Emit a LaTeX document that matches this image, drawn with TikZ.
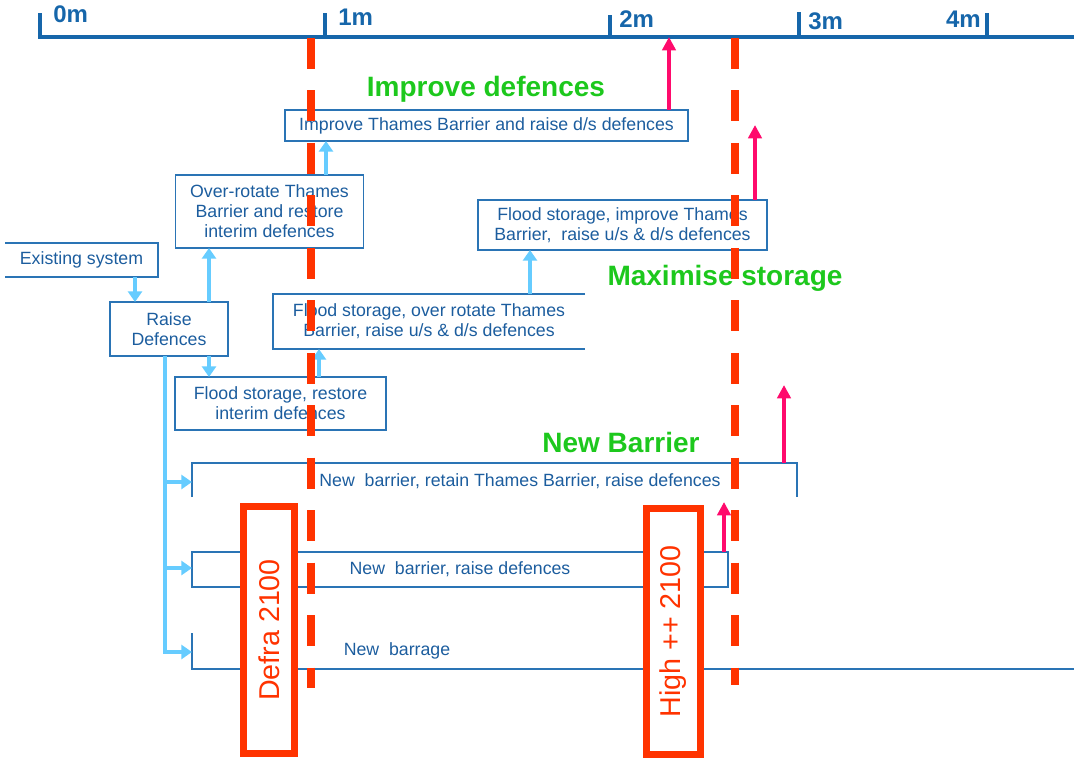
\documentclass[tikz,border=0pt]{standalone}
\usepackage{fontspec}
\setmainfont{Liberation Sans}
\usetikzlibrary{arrows.meta}

\definecolor{boxline}{HTML}{2A74B5}
\definecolor{boxtext}{HTML}{1C5D9E}
\definecolor{axisblue}{HTML}{1666AA}
\definecolor{flowblue}{HTML}{66CCFF}
\definecolor{markred}{HTML}{FF3300}
\definecolor{riserpink}{HTML}{FF0A6C}
\definecolor{themegreen}{HTML}{1DC81D}

\newcommand\optfont{\fontsize{13.3pt}{15pt}\selectfont}

\begin{document}
\begin{tikzpicture}[x=0.75pt,y=-0.75pt,
  optbox/.style 2 args={draw=boxline,line width=1.4pt,
    minimum width=#1*0.75pt,minimum height=#2*0.75pt,
    inner sep=0pt,outer sep=0pt,align=center,text=boxtext,font=\optfont},
  openbox/.style 2 args={minimum width=#1*0.75pt,minimum height=#2*0.75pt,
    inner sep=0pt,outer sep=0pt,align=center,text=boxtext,font=\optfont},
  outline/.style={draw=boxline,line width=1.4pt,line join=miter},
  opttext/.style={inner sep=0pt,text=boxtext,font=\optfont},
  flow/.style={draw=flowblue,line width=3pt,
    -{Triangle[width=10.5pt,length=8pt]}},
  rise/.style={draw=riserpink,line width=2.8pt,
    -{Triangle[width=10pt,length=10pt]}},
  axisline/.style={draw=axisblue,line width=3.5pt,line join=miter},
  ticklabel/.style={text=axisblue,inner sep=0pt,
    font=\fontsize{18pt}{20pt}\selectfont\bfseries},
  theme/.style={text=themegreen,inner sep=0pt,
    font=\fontsize{21pt}{24pt}\selectfont\bfseries},
  limit/.style={draw=markred,line width=6pt,
    dash pattern=on 23.25pt off 16.1pt},
  horizon/.style={draw=markred,fill=white,line width=5.25pt,
    inner sep=0pt,outer sep=0pt,text=markred,
    font=\fontsize{21.5pt}{26pt}\selectfont}]

\useasboundingbox (0,0) rectangle (1074,758);

% ---- time axis ----
\coordinate (ax0) at (40,37);
\coordinate (axEnd) at (1074,37);
\draw[axisline] (40,13) -- (ax0) -- (axEnd);
\draw[axisline] (325,37) -- (325,13);
\draw[axisline] (610,37) -- (610,15);
\draw[axisline] (799,37) -- (799,12);
\draw[axisline] (987,37) -- (987,13);
\node[ticklabel,anchor=base west] (lbl0) at (53,22) {0m};
\node[ticklabel,anchor=base west] (lbl1) at (338,25) {1m};
\node[ticklabel,anchor=base west] (lbl2) at (619,27) {2m};
\node[ticklabel,anchor=base west] (lbl3) at (808,29) {3m};
\node[ticklabel,anchor=base east] (lbl4) at (981,27) {4m};

% ---- option boxes ----
\node[optbox={403}{31}] (improve) at (486.5,125.5)
  {Improve Thames Barrier and raise d/s defences};
\node[optbox={188}{73}] (over) at (269.5,211.5)
  {Over-rotate Thames\\Barrier and restore\\interim defences};
\node[openbox={153}{34}] (exist) at (81.5,260) {Existing system};
\draw[outline] (exist.north west) -- (exist.north east)
  -- (exist.south east) -- (exist.south west);
\node[optbox={118}{54}] (raise) at (169,329) {Raise\\Defences};
\node[openbox={312}{55}] (fover) at (429,321.5)
  {Flood storage, over rotate Thames\\Barrier, raise u/s \& d/s defences};
\draw[outline] (fover.north east) -- (fover.north west)
  -- (fover.south west) -- (fover.south east);
\node[optbox={289}{50}] (fimp) at (622.5,225)
  {Flood storage, improve Thames\\Barrier,\ \ raise u/s \& d/s defences};
\node[optbox={211}{53}] (frest) at (280.5,403.5)
  {Flood storage, restore\\interim defences};
\node[openbox={605}{34}] (nret) at (494.5,480) {};
\draw[outline] (nret.south west) -- (nret.north west)
  -- (nret.north east) -- (nret.south east);
\node[opttext] (nrettext) at (520,481)
  {New\ \ barrier, retain Thames Barrier, raise defences};
\node[optbox={536}{35}] (nraise) at (460,569.5)
  {New\ \ barrier, raise defences};
\node[openbox={882}{36}] (nbarrage) at (633,651) {};
\draw[outline] (nbarrage.north west) -- (nbarrage.south west)
  -- (nbarrage.south east);
\node[opttext] (nbarragetext) at (397,651) {New\ \ barrage};

% ---- adaptation pathways ----
\draw[flow] (exist.south -| 135,0) -- (raise.north -| 135,0);
\draw[flow] (raise.north -| 209,0) -- (over.south -| 209,0);
\draw[flow] (raise.south -| 209,0) -- (frest.north -| 209,0);
\draw[flow] (frest.north -| 319,0) -- (fover.south -| 319,0);
\draw[flow] (fover.north -| 530,0) -- (fimp.south -| 530,0);
\draw[flow] (over.north -| 326,0) -- (improve.south -| 326,0);
\draw[flow] (raise.south -| 165,0) |- (nbarrage.west |- 0,652);
\draw[flow] (raise.south -| 165,0) |- (nraise.west |- 0,568);
\draw[flow] (raise.south -| 165,0) |- (nret.west |- 0,482);

% ---- end-of-life risers ----
\coordinate (riseB) at (755,125);
\coordinate (riseC) at (784,385);
\coordinate (riseD) at (724,502);
\draw[rise] (improve.north -| 669,0) -- (ax0 -| 669,0);
\draw[rise] (fimp.north -| 755,0) -- (riseB);
\draw[rise] (nret.north -| 784,0) -- (riseC);
\draw[rise] (nraise.north -| 724,0) -- (riseD);

% ---- theme labels ----
\node[theme,anchor=base] (thImprove) at (486,96) {Improve defences};
\node[theme,anchor=base] (thStorage) at (725,285) {Maximise storage};
\node[theme,anchor=base] (thBarrier) at (621,452) {New Barrier};

% ---- scenario limits ----
\coordinate (defraTop) at (311,38);
\coordinate (defraEnd) at (311,688);
\coordinate (highTop) at (735,38);
\coordinate (highEnd) at (735,685);
\draw[limit] (defraTop) -- (defraEnd);
\draw[limit] (highTop) -- (highEnd);

\node[horizon,rotate=90,minimum width=247*0.75pt,minimum height=51*0.75pt]
  (defra) at (269,630) {Defra 2100};
\node[horizon,rotate=90,minimum width=246*0.75pt,minimum height=54*0.75pt]
  (high) at (673.5,631.5) {High ++ 2100};

\end{tikzpicture}
\end{document}
